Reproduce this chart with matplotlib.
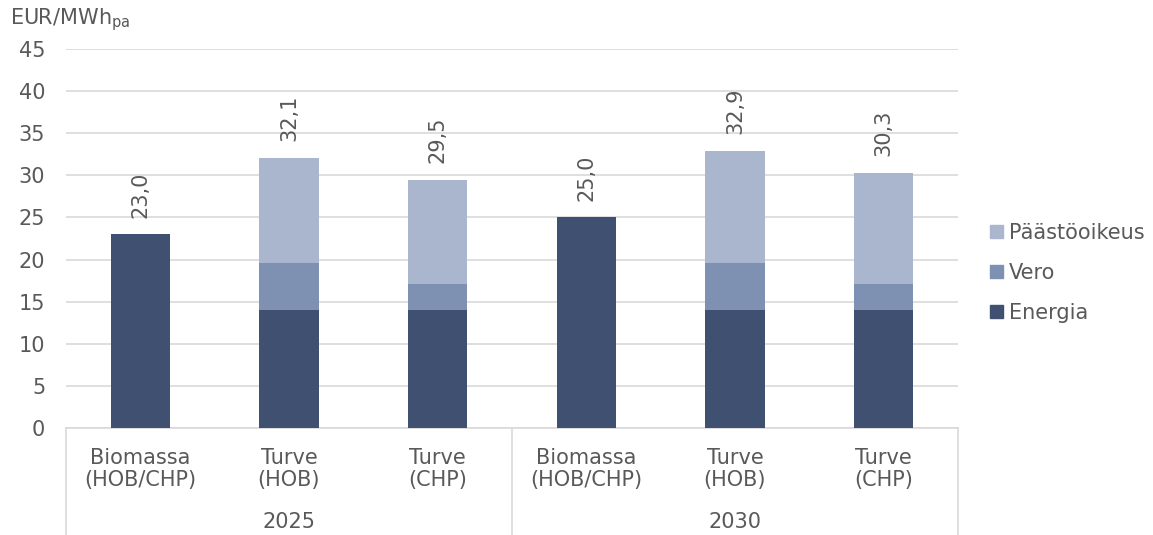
import numpy as np
import matplotlib
matplotlib.use('Agg')
import matplotlib.pyplot as plt
from matplotlib.patches import Patch

# data
categories = ['Biomassa\n(HOB/CHP)', 'Turve\n(HOB)', 'Turve\n(CHP)',
              'Biomassa\n(HOB/CHP)', 'Turve\n(HOB)', 'Turve\n(CHP)']
years = ['2025', '2030']
energia = [23.0, 14.0, 14.0, 25.0, 14.0, 14.0]
vero = [0.0, 5.6, 3.1, 0.0, 5.6, 3.1]
paastooikeus = [0.0, 12.5, 12.4, 0.0, 13.3, 13.2]
totals = [23.0, 32.1, 29.5, 25.0, 32.9, 30.3]

c_energia = '#3f5070'
c_vero = '#7f91b3'
c_paasto = '#aab6ce'
grey = '#595959'
gridc = '#d9d9d9'
fs = 15

plt.rcParams['font.family'] = ['DejaVu Sans']

fig = plt.figure(figsize=(11.53, 5.35), dpi=100)
ax = fig.add_axes([66/1153, 1-428/535, (958-66)/1153, 379/535])

x = np.arange(len(categories))
w = 0.40
bottom2 = np.array(energia) + np.array(vero)
ax.bar(x, energia, w, color=c_energia, zorder=3)
ax.bar(x, vero, w, bottom=energia, color=c_vero, zorder=3)
ax.bar(x, paastooikeus, w, bottom=bottom2, color=c_paasto, zorder=3)

# data labels
for xi, t in zip(x, totals):
    ax.annotate(f'{t:.1f}'.replace('.', ','), (xi, t), xytext=(0, 12),
                textcoords='offset points', rotation=90, ha='center', va='bottom',
                fontsize=fs, color=grey)

ax.set_xlim(-0.5, len(categories) - 0.5)
ax.set_ylim(0, 45)
ax.set_yticks(np.arange(0, 46, 5))
ax.tick_params(axis='y', length=0, labelsize=fs, labelcolor=grey, pad=15)
ax.set_xticks([])
ax.grid(axis='y', color=gridc, linewidth=1.2, zorder=0)
for s in ['top', 'right', 'left']:
    ax.spines[s].set_visible(False)
ax.spines['bottom'].set_color(gridc)
ax.spines['bottom'].set_linewidth(1.2)

# multi-level category axis
tr = ax.get_xaxis_transform()
for xs in [-0.5, 2.5, 5.5]:
    ax.plot([xs, xs], [0, -0.3], transform=tr, color=gridc, lw=1.2, clip_on=False)
for xi, cat in zip(x, categories):
    ax.text(xi, -0.053, cat, transform=tr, ha='center', va='top', fontsize=fs,
            color=grey, linespacing=1.1)
for i, yr in enumerate(years):
    ax.text(1 + 3 * i, -0.248, yr, transform=tr, ha='center', va='center',
            fontsize=fs, color=grey)

fig.text(10/1153, 1-20/535, r'EUR/MWh$_\mathregular{pa}$', fontsize=fs,
         color=grey, va='center', ha='left')

handles = [Patch(color=c_paasto), Patch(color=c_vero), Patch(color=c_energia)]
labels = ['Päästöoikeus', 'Vero', 'Energia']
leg = fig.legend(handles, labels, loc='center left', bbox_to_anchor=(982/1153, 1-273/535),
                 frameon=False, fontsize=fs, handlelength=0.6, handleheight=0.6,
                 handletextpad=0.3, labelspacing=0.95, borderaxespad=0)
for t in leg.get_texts():
    t.set_color(grey)

fig.savefig('out.png', dpi=100)
